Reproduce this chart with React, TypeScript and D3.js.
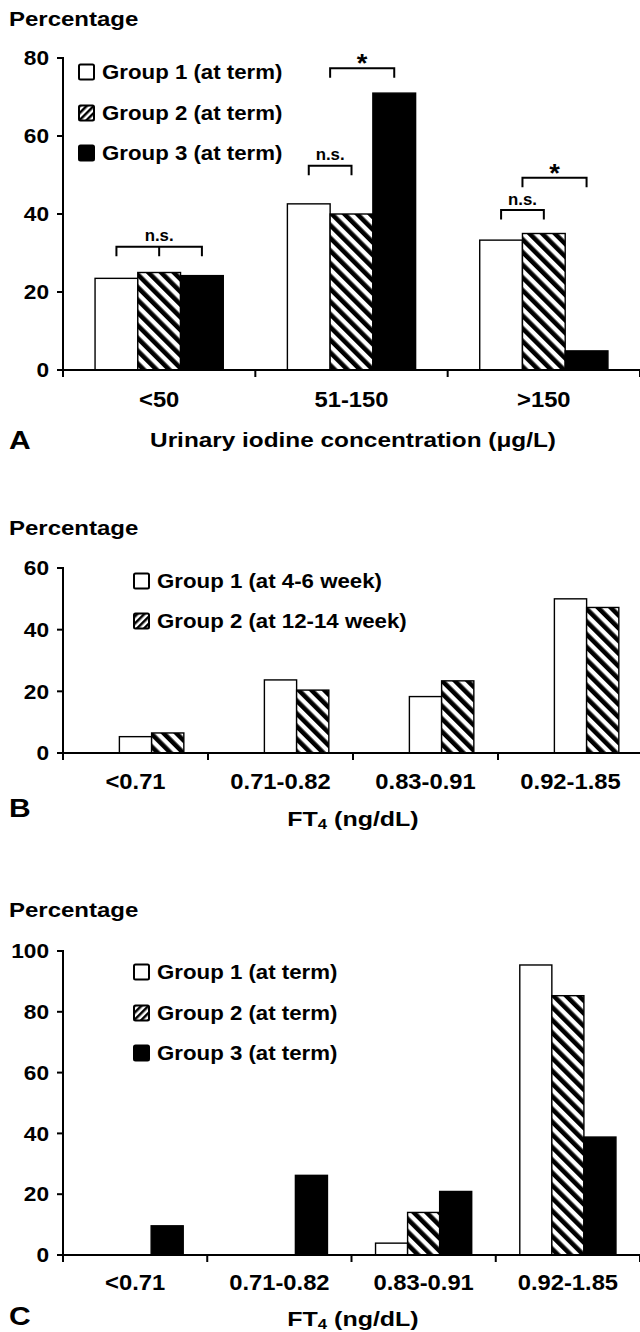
import React from "react";
import * as d3 from "d3";

// ---------- Data ----------
const catsA = ["<50", "51-150", ">150"];
const aGroup1 = [23.5, 42.6, 33.3];
const aGroup2 = [25.0, 40.0, 35.0];
const aGroup3 = [24.2, 71.0, 4.9];
const ticksA = [0, 20, 40, 60, 80];
const legendA = ["Group 1 (at term)", "Group 2 (at term)", "Group 3 (at term)"];

const catsFT4 = ["<0.71", "0.71-0.82", "0.83-0.91", "0.92-1.85"];
const bGroup1 = [5.3, 23.7, 18.3, 50.0];
const bGroup2 = [6.5, 20.4, 23.4, 47.2];
const ticksB = [0, 20, 40, 60];
const legendB = ["Group 1 (at 4-6 week)", "Group 2 (at 12-14 week)"];

const cGroup1 = [0, 0, 3.9, 95.4];
const cGroup2 = [0, 0, 14.0, 85.3];
const cGroup3 = [9.6, 26.2, 20.9, 38.8];
const ticksC = [0, 20, 40, 60, 80, 100];
const legendC = ["Group 1 (at term)", "Group 2 (at term)", "Group 3 (at term)"];

// significance annotations for panel A: category, from/to slot position, level (data units), label
const sigCat = ["<50", "51-150", "51-150", ">150", ">150"];
const sigFrom = [0, 0, 0.5, 0, 0.5];
const sigTo = [2, 1, 2, 1, 2];
const sigMid = [1, -1, -1, -1, -1];
const sigLevel = [31.6, 52.4, 77.4, 41.0, 49.3];
const sigLabel = ["n.s.", "n.s.", "*", "n.s.", "*"];

const FONT = "'Liberation Sans', Arial, Helvetica, sans-serif";
const fills = ["#fff", "url(#hatchBar)", "#000"];
const legendFills = ["#fff", "url(#hatchLeg)", "#000"];

function T(props: {
  x: number;
  y: number;
  size: number;
  sx?: number;
  anchor?: "start" | "middle" | "end";
  baseline?: string;
  children: React.ReactNode;
}) {
  const sx = props.sx ?? 1;
  return (
    <text
      transform={`translate(${props.x},${props.y}) scale(${sx},1)`}
      textAnchor={props.anchor ?? "start"}
      dominantBaseline={(props.baseline ?? "central") as any}
      fontFamily={FONT}
      fontWeight="bold"
      fontSize={props.size}
      fill="#000"
    >
      {props.children}
    </text>
  );
}

type Series = { values: number[]; slot: number; style: number };

function Panel(props: {
  cats: string[];
  series: Series[];
  ticks: number[];
  y0: number;
  y1: number;
  yMax: number;
  xEnd: number;
  xRangeEnd: number;
  legend: string[];
  legendStyles: number[];
  legendX: number;
  legendY: number[];
  pctY: number;
  catY: number;
  letter: string;
  letterY: number;
  titleY: number;
  titleSx: number;
  title: React.ReactNode;
  sig?: boolean;
}) {
  const x0 = 63;
  const x = d3.scaleBand<string>().domain(props.cats).range([x0, props.xRangeEnd]).padding(0);
  const inner = d3
    .scaleBand<number>()
    .domain([0, 1, 2])
    .range([0, x.bandwidth()])
    .paddingInner(0)
    .paddingOuter(0.75);
  const y = d3.scaleLinear().domain([0, props.yMax]).range([props.y0, props.y1]);
  const w = inner.bandwidth();
  const slotCenter = (cat: string, pos: number) =>
    (x(cat) as number) + (inner(0) as number) + pos * w + w / 2;
  const lastEdge = (x(props.cats[props.cats.length - 1]) as number) + x.bandwidth();

  return (
    <g>
      <T x={9} y={props.pctY} size={20} sx={1.2}>
        Percentage
      </T>
      {/* bars */}
      {props.series.map((s, si) =>
        s.values.map((v, i) =>
          v > 0 ? (
            <rect
              key={`b${si}-${i}`}
              x={(x(props.cats[i]) as number) + (inner(s.slot) as number)}
              y={y(v)}
              width={w}
              height={props.y0 - y(v)}
              fill={fills[s.style]}
              stroke="#000"
              strokeWidth={1.4}
            />
          ) : null
        )
      )}
      {/* y axis */}
      <line x1={x0} x2={x0} y1={y(props.yMax) - 1} y2={props.y0} stroke="#000" strokeWidth={2} />
      {props.ticks.map((t) => (
        <g key={`t${t}`}>
          <line x1={x0 - 6} x2={x0} y1={y(t)} y2={y(t)} stroke="#000" strokeWidth={2} />
          <T x={x0 - 14} y={y(t)} size={21} sx={1.08} anchor="end">
            {t}
          </T>
        </g>
      ))}
      {/* x axis */}
      <line x1={x0} x2={props.xEnd} y1={props.y0} y2={props.y0} stroke="#000" strokeWidth={2} />
      {props.cats.map((c) => (
        <line key={`xt${c}`} x1={x(c)} x2={x(c)} y1={props.y0} y2={props.y0 + 7} stroke="#000" strokeWidth={2} />
      ))}
      <line x1={lastEdge} x2={lastEdge} y1={props.y0} y2={props.y0 + 7} stroke="#000" strokeWidth={2} />
      {props.cats.map((c) => (
        <T key={`xl${c}`} x={(x(c) as number) + x.bandwidth() / 2} y={props.catY} size={22} sx={1.08} anchor="middle">
          {c}
        </T>
      ))}
      <T x={9} y={props.letterY} size={25} sx={1.2}>
        {props.letter}
      </T>
      <T x={353} y={props.titleY} size={21} sx={props.titleSx} anchor="middle">
        {props.title}
      </T>
      {/* legend */}
      {props.legend.map((l, i) => (
        <g key={`lg${i}`}>
          <rect
            x={props.legendX}
            y={props.legendY[i] - 7.5}
            width={15}
            height={15}
            rx={1.5}
            fill={legendFills[props.legendStyles[i]]}
            stroke="#000"
            strokeWidth={2}
          />
          <T x={props.legendX + 23} y={props.legendY[i]} size={21} sx={1.06}>
            {l}
          </T>
        </g>
      ))}
      {/* significance */}
      {props.sig &&
        sigCat.map((c, i) => {
          const xa = slotCenter(c, sigFrom[i]);
          const xb = slotCenter(c, sigTo[i]);
          const yy = y(sigLevel[i]);
          const d =
            `M${xa},${yy + 9.5}V${yy}H${xb}V${yy + 9.5}` +
            (sigMid[i] >= 0 ? `M${slotCenter(c, sigMid[i])},${yy}V${yy + 9.5}` : "");
          const star = sigLabel[i] === "*";
          return (
            <g key={`s${i}`}>
              <path d={d} fill="none" stroke="#000" strokeWidth={2} />
              <T
                x={(xa + xb) / 2}
                y={star ? yy + 4 : yy - 5.5}
                size={star ? 26 : 16}
                sx={1.05}
                anchor="middle"
                baseline="alphabetic"
              >
                {sigLabel[i]}
              </T>
            </g>
          );
        })}
    </g>
  );
}

const ft4Title = (
  <>
    FT<tspan fontSize={14} dy={5}>4</tspan>
    <tspan dy={-5}> (ng/dL)</tspan>
  </>
);

export default function App() {
  return (
    <svg width={640} height={1332} style={{ display: "block", position: "absolute", left: 0, top: 0 }}>
      <defs>
        <pattern id="hatchBar" patternUnits="userSpaceOnUse" width={9} height={9} patternTransform="rotate(-45)">
          <rect width={9} height={9} fill="#fff" />
          <rect width={4.6} height={9} fill="#000" />
        </pattern>
        <pattern id="hatchLeg" patternUnits="userSpaceOnUse" width={5} height={5} patternTransform="rotate(45)">
          <rect width={5} height={5} fill="#fff" />
          <rect width={2.5} height={5} fill="#000" />
        </pattern>
      </defs>
      <rect width={640} height={1332} fill="#fff" />
      <Panel
        cats={catsA}
        series={[
          { values: aGroup1, slot: 0, style: 0 },
          { values: aGroup2, slot: 1, style: 1 },
          { values: aGroup3, slot: 2, style: 2 },
        ]}
        ticks={ticksA}
        y0={370}
        y1={58}
        yMax={80}
        xEnd={640}
        xRangeEnd={640}
        legend={legendA}
        legendStyles={[0, 1, 2]}
        legendX={79}
        legendY={[72, 113, 153]}
        pctY={19}
        catY={399}
        letter="A"
        letterY={440}
        titleY={440}
        titleSx={1.16}
        title={"Urinary iodine concentration (\u03bcg/L)"}
        sig
      />
      <Panel
        cats={catsFT4}
        series={[
          { values: bGroup1, slot: 1, style: 0 },
          { values: bGroup2, slot: 2, style: 1 },
        ]}
        ticks={ticksB}
        y0={753}
        y1={568}
        yMax={60}
        xEnd={640}
        xRangeEnd={643}
        legend={legendB}
        legendStyles={[0, 1]}
        legendX={134}
        legendY={[581, 621]}
        pctY={528}
        catY={781}
        letter="B"
        letterY={808}
        titleY={819}
        titleSx={1.19}
        title={ft4Title}
      />
      <Panel
        cats={catsFT4}
        series={[
          { values: cGroup1, slot: 0, style: 0 },
          { values: cGroup2, slot: 1, style: 1 },
          { values: cGroup3, slot: 2, style: 2 },
        ]}
        ticks={ticksC}
        y0={1255}
        y1={951}
        yMax={100}
        xEnd={640}
        xRangeEnd={640}
        legend={legendC}
        legendStyles={[0, 1, 2]}
        legendX={134}
        legendY={[972, 1013, 1053]}
        pctY={910}
        catY={1282}
        letter="C"
        letterY={1316}
        titleY={1319}
        titleSx={1.19}
        title={ft4Title}
      />
    </svg>
  );
}
